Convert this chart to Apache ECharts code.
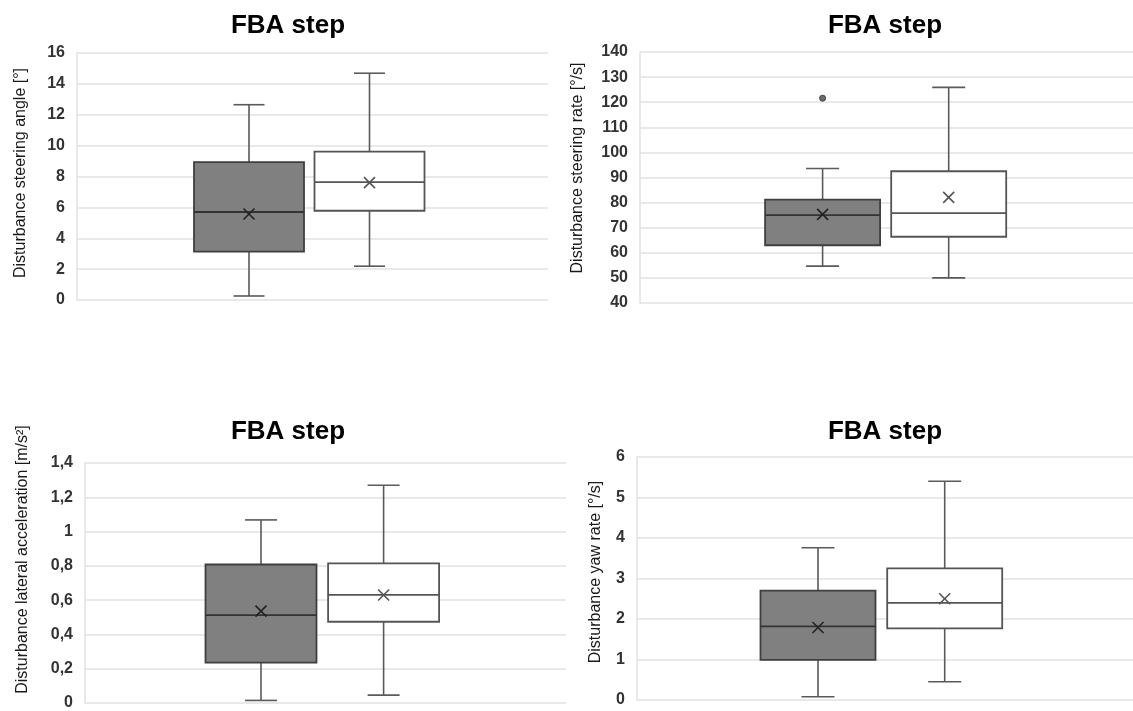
<!DOCTYPE html>
<html>
<head>
<meta charset="utf-8">
<script src="https://cdn.jsdelivr.net/npm/echarts@6.0.0/dist/echarts.min.js"></script>
<style>
html,body{margin:0;padding:0;background:#ffffff;}
#chart{width:1133px;height:711px;}
</style>
</head>
<body>
<div id="chart"></div>
<script>
// ---------- data ----------
const categories = ['FBA step'];
const titles = ['FBA step', 'FBA step', 'FBA step', 'FBA step'];
const yNames = [
  'Disturbance steering angle [°]',
  'Disturbance steering rate [°/s]',
  'Disturbance lateral acceleration [m/s²]',
  'Disturbance yaw rate [°/s]'
];
const yMins = [0, 40, 0, 0];
const yMaxs = [16, 140, 1.4, 6];
const yIntervals = [2, 10, 0.2, 1];

// [min, Q1, median, Q3, max, mean]
const steerAngleDark  = [0.26, 3.14, 5.70, 8.93, 12.65, 5.57];
const steerAngleLight = [2.19, 5.78, 7.63, 9.61, 14.69, 7.60];
const steerRateDark   = [54.7, 63.0, 75.0, 81.2, 93.6, 75.3];
const steerRateLight  = [50.0, 66.4, 75.8, 92.5, 125.9, 82.1];
const steerRateDarkOutliers = [121.6];
const latAccDark      = [0.015, 0.235, 0.513, 0.808, 1.068, 0.536];
const latAccLight     = [0.046, 0.474, 0.631, 0.814, 1.27, 0.63];
const yawRateDark     = [0.08, 0.99, 1.82, 2.70, 3.76, 1.79];
const yawRateLight    = [0.45, 1.77, 2.40, 3.25, 5.40, 2.50];

const darkBoxes  = [steerAngleDark, steerRateDark, latAccDark, yawRateDark];
const lightBoxes = [steerAngleLight, steerRateLight, latAccLight, yawRateLight];
const darkOutliers = [[], steerRateDarkOutliers, [], []];
const commaDecimal = [false, false, true, false];

// ---------- layout / style ----------
const FONT = '"Liberation Sans", Arial, Helvetica, sans-serif';
const layout = [
  {grid:{left:77,  top:53,  width:471, height:247}, title:[288,26],  offsets:[-63.5,57],   boxW:110, capW:31, nameGap:56.5, nameShift:3.5, labelSize:16},
  {grid:{left:640, top:52,  width:493, height:251}, title:[885,26],  offsets:[-63.9,62.2], boxW:115, capW:33, nameGap:62,   nameShift:9.5, labelSize:16},
  {grid:{left:85,  top:463, width:481, height:242}, title:[288,432], offsets:[-64.5,58.1], boxW:111, capW:32, nameGap:62,   nameShift:23.5, labelSize:16},
  {grid:{left:637, top:457, width:496, height:243}, title:[885,432], offsets:[-67,59.7],   boxW:115, capW:33, nameGap:41.5, nameShift:6.5, labelSize:16}
];
const darkStyle  = {fill:'#808080', stroke:'#3f3f3f', median:'#333333', mean:'#222222'};
const lightStyle = {fill:'#ffffff', stroke:'#555555', median:'#555555', mean:'#555555'};
const whiskerColor = '#5a5a5a';
const gridColor = '#e2e2e2';

function boxRenderer(offset, boxW, capW, st) {
  return function (params, api) {
    const x0 = api.value(0);
    const pt = function (v) { return api.coord([x0, v]); };
    const cx = pt(api.value(3))[0] + offset;
    const yMin = pt(api.value(1))[1];
    const yQ1 = pt(api.value(2))[1];
    const yMed = pt(api.value(3))[1];
    const yQ3 = pt(api.value(4))[1];
    const yMax = pt(api.value(5))[1];
    const yMean = pt(api.value(6))[1];
    const hb = boxW / 2, hc = capW / 2, m = 5.5;
    const wl = {stroke: whiskerColor, lineWidth: 1.6};
    return {
      type: 'group',
      children: [
        {type:'line', shape:{x1:cx, y1:yQ3, x2:cx, y2:yMax}, style:wl},
        {type:'line', shape:{x1:cx, y1:yQ1, x2:cx, y2:yMin}, style:wl},
        {type:'line', shape:{x1:cx-hc, y1:yMax, x2:cx+hc, y2:yMax}, style:wl},
        {type:'line', shape:{x1:cx-hc, y1:yMin, x2:cx+hc, y2:yMin}, style:wl},
        {type:'rect', shape:{x:cx-hb, y:yQ3, width:boxW, height:yQ1-yQ3},
          style:{fill:st.fill, stroke:st.stroke, lineWidth:1.8}},
        {type:'line', shape:{x1:cx-hb, y1:yMed, x2:cx+hb, y2:yMed}, style:{stroke:st.median, lineWidth:1.8}},
        {type:'line', shape:{x1:cx-m, y1:yMean-m, x2:cx+m, y2:yMean+m}, style:{stroke:st.mean, lineWidth:1.6}},
        {type:'line', shape:{x1:cx-m, y1:yMean+m, x2:cx+m, y2:yMean-m}, style:{stroke:st.mean, lineWidth:1.6}}
      ]
    };
  };
}
function outlierRenderer(offset) {
  return function (params, api) {
    const p = api.coord([api.value(0), api.value(1)]);
    return {type:'circle', shape:{cx:p[0] + offset, cy:p[1], r:3},
      style:{fill:'#6a6a6a', stroke:'#444444', lineWidth:1}};
  };
}

const option = {
  backgroundColor: '#ffffff',
  animation: false,
  title: [], grid: [], xAxis: [], yAxis: [], series: []
};

for (let i = 0; i < 4; i++) {
  const L = layout[i];
  option.title.push({
    text: titles[i], left: L.title[0], top: L.title[1], padding: 0,
    textAlign: 'center', textVerticalAlign: 'middle',
    textStyle: {fontFamily: FONT, fontSize: 26, fontWeight: 'bold', color: '#000000'}
  });
  option.grid.push(Object.assign({containLabel: false}, L.grid));
  option.xAxis.push({type:'category', gridIndex:i, data:categories, show:false, boundaryGap:true});
  option.yAxis.push({
    type:'value', gridIndex:i, min:yMins[i], max:yMaxs[i], interval:yIntervals[i],
    name: yNames[i], nameLocation:'middle', nameRotate:90, nameGap:L.nameGap,
    nameTextStyle:{fontFamily:FONT, fontSize:16, color:'#1a1a1a', align:'center', verticalAlign:'middle',
      padding:[0,0,0,2*L.nameShift]},
    axisLine:{show:true, lineStyle:{color:gridColor, width:1.5}},
    axisTick:{show:false},
    axisLabel:{margin:12, fontFamily:FONT, fontSize:L.labelSize, fontWeight:'bold', color:'#333333',
      formatter: commaDecimal[i]
        ? function (v) { return String(+(+v).toFixed(1)).replace('.', ','); }
        : function (v) { return String(+(+v).toFixed(1)); }},
    splitLine:{show:true, lineStyle:{color:gridColor, width:1.5}}
  });
  option.series.push({
    type:'custom', name:'dark', xAxisIndex:i, yAxisIndex:i,
    renderItem: boxRenderer(L.offsets[0], L.boxW, L.capW, darkStyle),
    encode:{x:0, y:[1,2,3,4,5,6]},
    data:[[0].concat(darkBoxes[i])]
  });
  option.series.push({
    type:'custom', name:'light', xAxisIndex:i, yAxisIndex:i,
    renderItem: boxRenderer(L.offsets[1], L.boxW, L.capW, lightStyle),
    encode:{x:0, y:[1,2,3,4,5,6]},
    data:[[0].concat(lightBoxes[i])]
  });
  if (darkOutliers[i].length) {
    option.series.push({
      type:'custom', name:'outliers', xAxisIndex:i, yAxisIndex:i,
      renderItem: outlierRenderer(L.offsets[0]),
      encode:{x:0, y:1},
      data: darkOutliers[i].map(function (v) { return [0, v]; })
    });
  }
}

const chart = echarts.init(document.getElementById('chart'), null, {renderer:'canvas'});
chart.setOption(option);
</script>
</body>
</html>
